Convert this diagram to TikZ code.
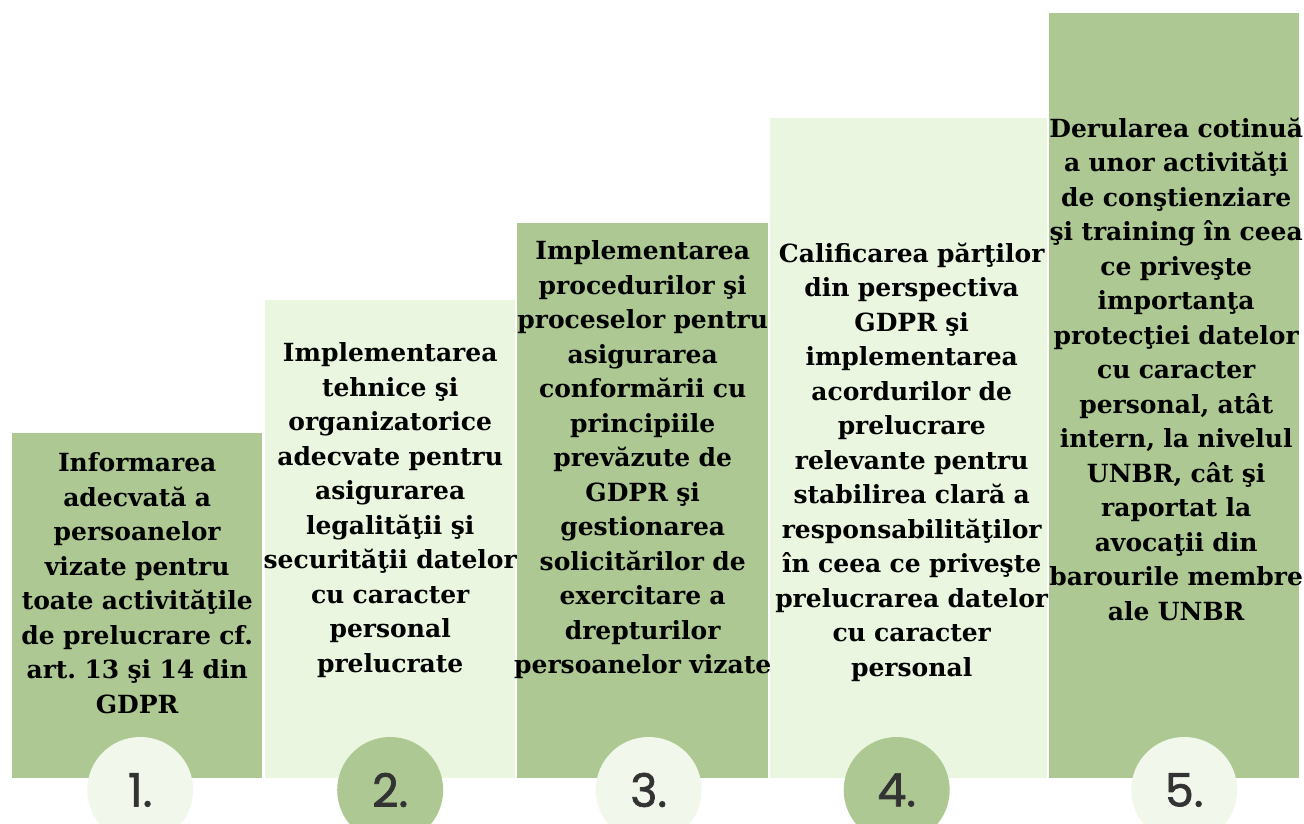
\documentclass[tikz,border=0pt]{standalone}
\usepackage{fontspec}
\setmainfont{DejaVu Serif}
\newfontfamily\stepnumfont[FakeBold=1.5]{Poppins}
\usetikzlibrary{positioning}
\definecolor{sagegreen}{RGB}{173, 200, 146}
\definecolor{palegreen}{RGB}{234, 246, 224}
\definecolor{discpale}{RGB}{241, 248, 235}
\definecolor{numgray}{RGB}{51, 51, 51}
\newcommand{\steplabelfont}{\fontsize{25}{34.5}\selectfont\bfseries\frenchspacing}

\begin{document}
\begin{tikzpicture}[x=1pt, y=1pt, every node/.style={inner sep=0pt},
        stepcol/.style={rectangle, anchor=south west, minimum width=250pt},
        darkcol/.style={stepcol, fill=sagegreen},
        lightcol/.style={stepcol, fill=palegreen},
        steptext/.style={text width=300pt, align=center, font=\steplabelfont, text=black},
        numdisc/.style={circle, minimum size=106pt, font=\stepnumfont\fontsize{46}{46}\selectfont, text=numgray},
        lightdisc/.style={numdisc, fill=discpale},
        darkdisc/.style={numdisc, fill=sagegreen}]
    \useasboundingbox (0,0) rectangle (1304,823);
    \clip (0,0) rectangle (1304,823);
    % the five steps
    \node (col1) [darkcol, minimum height=345pt] at (12,45) {};
    \node (col2) [lightcol, minimum height=478pt] at (265,45) {};
    \node (col3) [darkcol, minimum width=251pt, minimum height=555pt] at (517,45) {};
    \node (col4) [lightcol, minimum width=277pt, minimum height=660pt] at (770,45) {};
    \node (col5) [darkcol, minimum height=765pt] at (1049,45) {};
    % texts
    \node (txt1) [steptext, below=20pt of col1.north] {Informarea\\adecvată a\\persoanelor\\vizate pentru\\toate activităţile\\de prelucrare cf.\\art. 13 şi 14 din\\GDPR};
    \node (txt2) [steptext, below=43pt of col2.north] {Implementarea\\tehnice şi\\organizatorice\\adecvate pentru\\asigurarea\\legalităţii şi\\securităţii datelor\\cu caracter\\personal\\prelucrate};
    \node (txt3) [steptext, below=18pt of col3.north] {Implementarea\\procedurilor şi\\proceselor pentru\\asigurarea\\conformării cu\\principiile\\prevăzute de\\GDPR şi\\gestionarea\\solicitărilor de\\exercitare a\\drepturilor\\persoanelor vizate};
    \node (txt4) [steptext, below=125pt of col4.north, xshift=3pt] {Calificarea părţilor\\din perspectiva\\GDPR şi\\implementarea\\acordurilor de\\prelucrare\\relevante pentru\\stabilirea clară a\\responsabilităţilor\\în ceea ce priveşte\\prelucrarea datelor\\cu caracter\\personal};
    \node (txt5) [steptext, below=105pt of col5.north, xshift=2pt] {Derularea cotinuă\\a unor activităţi\\de conştienziare\\şi training în ceea\\ce priveşte\\importanţa\\protecţiei datelor\\cu caracter\\personal, atât\\intern, la nivelul\\UNBR, cât şi\\raportat la\\avocaţii din\\barourile membre\\ale UNBR};
    % numbers
    \node (num1) [lightdisc] at ([xshift=3pt, yshift=-12pt]col1.south) {1.};
    \node (num2) [darkdisc] at ([yshift=-12pt]col2.south) {2.};
    \node (num3) [lightdisc] at ([xshift=6pt, yshift=-12pt]col3.south) {3.};
    \node (num4) [darkdisc] at ([xshift=-12pt, yshift=-12pt]col4.south) {4.};
    \node (num5) [lightdisc] at ([xshift=10pt, yshift=-12pt]col5.south) {5.};
\end{tikzpicture}
\end{document}
